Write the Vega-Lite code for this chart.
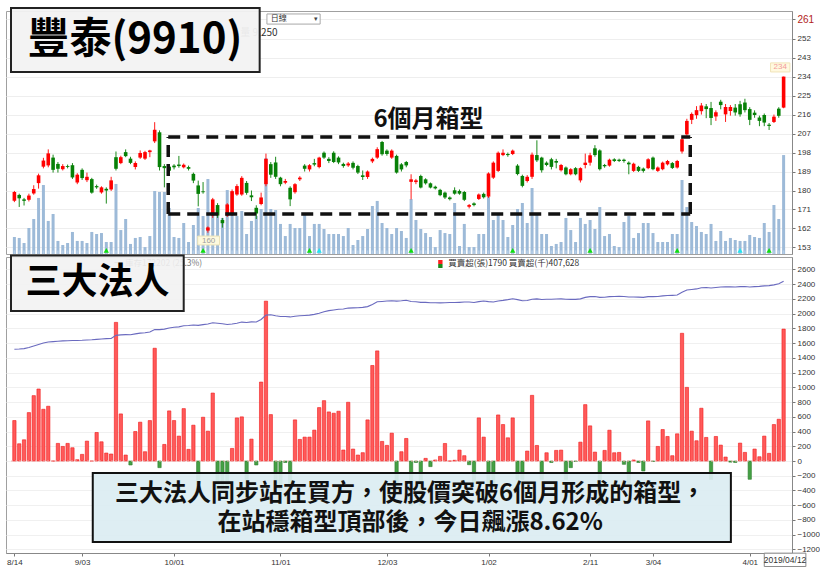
{
"$schema": "https://vega.github.io/schema/vega-lite/v6.json",
"background": "white",
"padding": {"left": 5, "top": 6, "right": 0, "bottom": 0},
"spacing": 3,
"bounds": "flush",
"config": {
  "view": {"stroke": "#a0a0a0"},
  "axis": {"labelFont": "Liberation Sans", "labelFontSize": 8, "labelColor": "#333333", "tickColor": "#777777", "domainColor": "#888888", "tickSize": 3, "labelPadding": 2, "gridColor": "#eeeeee", "labelOverlap": false}
},
"datasets": {
"days": [
{"i":0,"d":"2018-08-14","o":175.1,"h":179.8,"l":174.5,"c":179.3,"v":1590,"nb":549,"hold":1517},
{"i":1,"d":"2018-08-15","o":177.9,"h":178.5,"l":172.2,"c":176.3,"v":1500,"nb":234,"hold":1520},
{"i":2,"d":"2018-08-16","o":175.8,"h":176.5,"l":172.9,"c":175.1,"v":1030,"nb":288,"hold":1525},
{"i":3,"d":"2018-08-17","o":175.6,"h":178.5,"l":174.8,"c":177.6,"v":2430,"nb":657,"hold":1540},
{"i":4,"d":"2018-08-20","o":178.6,"h":182.5,"l":178.0,"c":180.7,"v":3270,"nb":887,"hold":1560},
{"i":5,"d":"2018-08-21","o":183.5,"h":188.0,"l":180.9,"c":187.2,"v":5240,"nb":977,"hold":1580},
{"i":6,"d":"2018-08-22","o":191.3,"h":195.5,"l":190.5,"c":194.2,"v":6450,"nb":702,"hold":1600},
{"i":7,"d":"2018-08-23","o":191.9,"h":199.5,"l":191.0,"c":197.6,"v":3090,"nb":743,"hold":1615},
{"i":8,"d":"2018-08-24","o":195.6,"h":197.0,"l":188.5,"c":189.8,"v":3740,"nb":0,"hold":1620},
{"i":9,"d":"2018-08-27","o":192.6,"h":193.5,"l":188.5,"c":190.3,"v":1220,"nb":239,"hold":1625},
{"i":10,"d":"2018-08-28","o":190.1,"h":192.5,"l":189.5,"c":191.6,"v":840,"nb":198,"hold":1630},
{"i":11,"d":"2018-08-29","o":191.6,"h":192.3,"l":190.5,"c":191.2,"v":1030,"nb":239,"hold":1632},
{"i":12,"d":"2018-08-30","o":192.0,"h":193.0,"l":185.5,"c":186.2,"v":2060,"nb":180,"hold":1635},
{"i":13,"d":"2018-08-31","o":183.8,"h":188.2,"l":183.0,"c":187.5,"v":1220,"nb":18,"hold":1636},
{"i":14,"d":"2018-09-03","o":189.8,"h":190.5,"l":185.0,"c":185.9,"v":1220,"nb":90,"hold":1638},
{"i":15,"d":"2018-09-04","o":184.9,"h":188.5,"l":184.0,"c":186.5,"v":1030,"nb":270,"hold":1642},
{"i":16,"d":"2018-09-05","o":185.4,"h":186.0,"l":178.5,"c":179.0,"v":2060,"nb":0,"hold":1645},
{"i":17,"d":"2018-09-06","o":182.1,"h":182.8,"l":180.8,"c":181.5,"v":1870,"nb":387,"hold":1650},
{"i":18,"d":"2018-09-07","o":179.1,"h":182.0,"l":178.5,"c":181.5,"v":1960,"nb":261,"hold":1655},
{"i":19,"d":"2018-09-10","o":180.8,"h":181.5,"l":173.8,"c":180.0,"v":1120,"nb":108,"hold":1660},
{"i":20,"d":"2018-09-11","o":180.5,"h":186.5,"l":179.8,"c":184.8,"v":1120,"nb":95,"hold":1662},
{"i":21,"d":"2018-09-12","o":195.8,"h":198.5,"l":189.5,"c":190.3,"v":6550,"nb":1881,"hold":1705},
{"i":22,"d":"2018-09-13","o":193.0,"h":196.5,"l":192.5,"c":195.8,"v":2240,"nb":639,"hold":1712},
{"i":23,"d":"2018-09-14","o":198.2,"h":199.5,"l":195.8,"c":196.3,"v":3270,"nb":81,"hold":1715},
{"i":24,"d":"2018-09-17","o":195.1,"h":196.0,"l":192.5,"c":193.1,"v":940,"nb":-54,"hold":1713},
{"i":25,"d":"2018-09-18","o":191.1,"h":193.8,"l":190.0,"c":193.1,"v":1500,"nb":400,"hold":1725},
{"i":26,"d":"2018-09-19","o":195.6,"h":199.0,"l":195.0,"c":197.8,"v":1590,"nb":527,"hold":1735},
{"i":27,"d":"2018-09-20","o":195.1,"h":198.8,"l":194.5,"c":198.2,"v":650,"nb":126,"hold":1740},
{"i":28,"d":"2018-09-21","o":198.2,"h":199.3,"l":195.8,"c":199.0,"v":1680,"nb":549,"hold":1750},
{"i":29,"d":"2018-09-25","o":203.3,"h":212.4,"l":202.5,"c":208.8,"v":5890,"nb":1530,"hold":1785},
{"i":30,"d":"2018-09-26","o":207.6,"h":208.5,"l":189.5,"c":191.1,"v":5800,"nb":-90,"hold":1783},
{"i":31,"d":"2018-09-27","o":191.6,"h":192.5,"l":181.5,"c":190.6,"v":5800,"nb":225,"hold":1790},
{"i":32,"d":"2018-09-28","o":191.3,"h":192.0,"l":188.0,"c":189.4,"v":4300,"nb":680,"hold":1805},
{"i":33,"d":"2018-10-01","o":191.8,"h":192.5,"l":190.0,"c":191.0,"v":1590,"nb":549,"hold":1815},
{"i":34,"d":"2018-10-02","o":192.3,"h":196.4,"l":190.8,"c":191.6,"v":1500,"nb":338,"hold":1820},
{"i":35,"d":"2018-10-03","o":191.0,"h":192.8,"l":190.5,"c":192.2,"v":2900,"nb":711,"hold":1835},
{"i":36,"d":"2018-10-04","o":191.1,"h":191.8,"l":189.5,"c":190.3,"v":1120,"nb":158,"hold":1838},
{"i":37,"d":"2018-10-05","o":187.9,"h":188.5,"l":183.5,"c":184.7,"v":2710,"nb":486,"hold":1845},
{"i":38,"d":"2018-10-08","o":182.4,"h":184.7,"l":172.5,"c":178.4,"v":4300,"nb":-320,"hold":1840},
{"i":39,"d":"2018-10-09","o":179.6,"h":184.0,"l":178.5,"c":179.2,"v":3550,"nb":594,"hold":1850},
{"i":40,"d":"2018-10-11","o":161.0,"h":163.0,"l":160.0,"c":162.5,"v":7010,"nb":405,"hold":1860},
{"i":41,"d":"2018-10-12","o":168.1,"h":176.5,"l":167.0,"c":175.8,"v":4210,"nb":922,"hold":1875},
{"i":42,"d":"2018-10-15","o":173.1,"h":174.0,"l":167.0,"c":168.1,"v":3550,"nb":-380,"hold":1870},
{"i":43,"d":"2018-10-16","o":166.0,"h":167.0,"l":162.4,"c":164.5,"v":3370,"nb":-350,"hold":1862},
{"i":44,"d":"2018-10-17","o":168.1,"h":174.0,"l":167.5,"c":173.4,"v":5980,"nb":-380,"hold":1852},
{"i":45,"d":"2018-10-18","o":168.9,"h":180.5,"l":168.0,"c":179.7,"v":5800,"nb":171,"hold":1858},
{"i":46,"d":"2018-10-19","o":178.1,"h":183.0,"l":177.5,"c":182.1,"v":3550,"nb":585,"hold":1870},
{"i":47,"d":"2018-10-22","o":178.1,"h":186.8,"l":177.5,"c":186.0,"v":4020,"nb":599,"hold":1885},
{"i":48,"d":"2018-10-23","o":183.6,"h":184.5,"l":178.0,"c":178.9,"v":1870,"nb":-250,"hold":1880},
{"i":49,"d":"2018-10-24","o":177.7,"h":180.0,"l":175.0,"c":176.8,"v":3090,"nb":297,"hold":1888},
{"i":50,"d":"2018-10-25","o":171.8,"h":173.0,"l":166.5,"c":169.1,"v":3550,"nb":-54,"hold":1886},
{"i":51,"d":"2018-10-26","o":173.6,"h":179.0,"l":173.0,"c":176.7,"v":4210,"nb":1071,"hold":1920},
{"i":52,"d":"2018-10-29","o":183.0,"h":197.5,"l":182.0,"c":195.0,"v":8980,"nb":2169,"hold":1980},
{"i":53,"d":"2018-10-30","o":192.5,"h":193.5,"l":186.0,"c":187.5,"v":4210,"nb":630,"hold":1985},
{"i":54,"d":"2018-10-31","o":193.3,"h":196.0,"l":185.5,"c":186.5,"v":4110,"nb":-380,"hold":1970},
{"i":55,"d":"2018-11-01","o":186.1,"h":186.5,"l":182.0,"c":183.0,"v":2810,"nb":-400,"hold":1960},
{"i":56,"d":"2018-11-02","o":183.7,"h":185.5,"l":183.0,"c":184.5,"v":1680,"nb":-20,"hold":1960},
{"i":57,"d":"2018-11-05","o":181.3,"h":182.0,"l":172.6,"c":175.8,"v":2810,"nb":-380,"hold":1955},
{"i":58,"d":"2018-11-06","o":179.2,"h":183.5,"l":178.5,"c":183.0,"v":2430,"nb":558,"hold":1965},
{"i":59,"d":"2018-11-07","o":185.3,"h":186.8,"l":184.5,"c":186.1,"v":2430,"nb":293,"hold":1970},
{"i":60,"d":"2018-11-08","o":191.8,"h":192.5,"l":189.0,"c":190.3,"v":3740,"nb":324,"hold":1975},
{"i":61,"d":"2018-11-09","o":190.0,"h":192.5,"l":189.0,"c":192.0,"v":1680,"nb":324,"hold":1980},
{"i":62,"d":"2018-11-12","o":193.0,"h":195.0,"l":191.5,"c":192.3,"v":2810,"nb":419,"hold":1990},
{"i":63,"d":"2018-11-13","o":191.1,"h":196.0,"l":190.5,"c":195.6,"v":2810,"nb":725,"hold":2005},
{"i":64,"d":"2018-11-14","o":197.9,"h":198.5,"l":195.0,"c":195.6,"v":2340,"nb":819,"hold":2025},
{"i":65,"d":"2018-11-15","o":195.0,"h":195.8,"l":193.0,"c":194.0,"v":1870,"nb":666,"hold":2040},
{"i":66,"d":"2018-11-16","o":197.9,"h":198.6,"l":193.0,"c":193.5,"v":1870,"nb":648,"hold":2050},
{"i":67,"d":"2018-11-19","o":195.6,"h":196.2,"l":192.5,"c":193.3,"v":1870,"nb":675,"hold":2060},
{"i":68,"d":"2018-11-20","o":192.6,"h":193.2,"l":190.8,"c":191.6,"v":1680,"nb":149,"hold":2062},
{"i":69,"d":"2018-11-21","o":191.9,"h":193.5,"l":191.2,"c":192.8,"v":2430,"nb":797,"hold":2075},
{"i":70,"d":"2018-11-22","o":193.1,"h":193.8,"l":190.0,"c":190.8,"v":840,"nb":162,"hold":2078},
{"i":71,"d":"2018-11-23","o":191.6,"h":192.2,"l":187.8,"c":188.5,"v":1310,"nb":81,"hold":2080},
{"i":72,"d":"2018-11-26","o":187.2,"h":189.5,"l":185.0,"c":186.4,"v":1680,"nb":113,"hold":2085},
{"i":73,"d":"2018-11-27","o":186.4,"h":189.5,"l":185.5,"c":189.0,"v":2340,"nb":558,"hold":2095},
{"i":74,"d":"2018-11-28","o":193.8,"h":195.6,"l":193.0,"c":195.0,"v":4490,"nb":1296,"hold":2125},
{"i":75,"d":"2018-11-29","o":195.6,"h":200.5,"l":195.0,"c":199.6,"v":4960,"nb":1494,"hold":2160},
{"i":76,"d":"2018-11-30","o":203.0,"h":203.5,"l":196.5,"c":197.2,"v":2900,"nb":266,"hold":2165},
{"i":77,"d":"2018-12-03","o":198.9,"h":199.5,"l":196.5,"c":197.3,"v":2430,"nb":212,"hold":2170},
{"i":78,"d":"2018-12-04","o":195.6,"h":199.5,"l":195.0,"c":198.9,"v":1870,"nb":378,"hold":2175},
{"i":79,"d":"2018-12-05","o":196.4,"h":197.0,"l":188.0,"c":188.5,"v":2430,"nb":-420,"hold":2170},
{"i":80,"d":"2018-12-06","o":192.4,"h":193.0,"l":189.0,"c":190.0,"v":2150,"nb":126,"hold":2175},
{"i":81,"d":"2018-12-07","o":193.5,"h":194.0,"l":191.0,"c":191.9,"v":1500,"nb":306,"hold":2182},
{"i":82,"d":"2018-12-10","o":184.1,"h":187.7,"l":175.8,"c":185.3,"v":5140,"nb":-600,"hold":2165},
{"i":83,"d":"2018-12-11","o":184.0,"h":185.5,"l":183.0,"c":184.8,"v":3180,"nb":-20,"hold":2160},
{"i":84,"d":"2018-12-12","o":186.9,"h":187.5,"l":181.0,"c":181.4,"v":2340,"nb":-600,"hold":2152},
{"i":85,"d":"2018-12-13","o":185.3,"h":185.8,"l":182.8,"c":183.4,"v":1960,"nb":36,"hold":2152},
{"i":86,"d":"2018-12-14","o":183.4,"h":183.8,"l":181.0,"c":181.4,"v":1590,"nb":-76,"hold":2148},
{"i":87,"d":"2018-12-17","o":181.8,"h":182.3,"l":180.5,"c":181.0,"v":650,"nb":14,"hold":2148},
{"i":88,"d":"2018-12-18","o":180.3,"h":180.8,"l":177.3,"c":177.8,"v":2240,"nb":63,"hold":2146},
{"i":89,"d":"2018-12-19","o":179.0,"h":179.5,"l":176.0,"c":176.7,"v":1960,"nb":238,"hold":2148},
{"i":90,"d":"2018-12-20","o":176.7,"h":177.2,"l":175.3,"c":175.9,"v":1870,"nb":0,"hold":2150},
{"i":91,"d":"2018-12-21","o":180.1,"h":181.5,"l":178.0,"c":178.5,"v":4770,"nb":10,"hold":2150},
{"i":92,"d":"2018-12-22","o":179.8,"h":180.5,"l":178.0,"c":178.5,"v":750,"nb":148,"hold":2153},
{"i":93,"d":"2018-12-24","o":179.3,"h":179.8,"l":175.0,"c":175.6,"v":2810,"nb":72,"hold":2157},
{"i":94,"d":"2018-12-25","o":172.3,"h":173.6,"l":171.5,"c":173.1,"v":650,"nb":-50,"hold":2157},
{"i":95,"d":"2018-12-26","o":173.9,"h":174.4,"l":172.5,"c":173.1,"v":650,"nb":-300,"hold":2150},
{"i":96,"d":"2018-12-27","o":176.0,"h":178.6,"l":175.5,"c":178.1,"v":1870,"nb":585,"hold":2162},
{"i":97,"d":"2018-12-28","o":178.4,"h":179.0,"l":176.2,"c":176.8,"v":1870,"nb":324,"hold":2170},
{"i":98,"d":"2019-01-02","o":177.1,"h":188.6,"l":176.5,"c":188.1,"v":5330,"nb":-350,"hold":2163},
{"i":99,"d":"2019-01-03","o":186.1,"h":193.8,"l":185.5,"c":193.2,"v":3180,"nb":-350,"hold":2158},
{"i":100,"d":"2019-01-04","o":189.3,"h":198.5,"l":188.8,"c":197.9,"v":3830,"nb":625,"hold":2172},
{"i":101,"d":"2019-01-07","o":196.8,"h":199.5,"l":196.3,"c":197.9,"v":3180,"nb":495,"hold":2180},
{"i":102,"d":"2019-01-08","o":197.3,"h":198.0,"l":196.0,"c":196.8,"v":1590,"nb":315,"hold":2190},
{"i":103,"d":"2019-01-09","o":197.3,"h":199.4,"l":196.8,"c":198.9,"v":2710,"nb":585,"hold":2202},
{"i":104,"d":"2019-01-10","o":191.8,"h":192.5,"l":187.2,"c":187.8,"v":4210,"nb":-250,"hold":2190},
{"i":105,"d":"2019-01-11","o":186.9,"h":187.5,"l":181.5,"c":182.2,"v":4770,"nb":-250,"hold":2175},
{"i":106,"d":"2019-01-14","o":184.5,"h":187.3,"l":183.8,"c":186.5,"v":2900,"nb":135,"hold":2178},
{"i":107,"d":"2019-01-15","o":186.5,"h":198.0,"l":185.5,"c":197.0,"v":6170,"nb":891,"hold":2195},
{"i":108,"d":"2019-01-16","o":196.8,"h":203.8,"l":193.5,"c":194.3,"v":3830,"nb":211,"hold":2200},
{"i":109,"d":"2019-01-17","o":195.6,"h":196.0,"l":188.5,"c":189.6,"v":1870,"nb":-250,"hold":2192},
{"i":110,"d":"2019-01-18","o":193.2,"h":193.8,"l":191.5,"c":192.1,"v":1870,"nb":112,"hold":2195},
{"i":111,"d":"2019-01-21","o":194.8,"h":195.5,"l":190.0,"c":191.2,"v":750,"nb":-20,"hold":2195},
{"i":112,"d":"2019-01-22","o":194.0,"h":195.0,"l":190.5,"c":193.2,"v":940,"nb":144,"hold":2198},
{"i":113,"d":"2019-01-23","o":189.6,"h":192.6,"l":189.0,"c":192.1,"v":1120,"nb":148,"hold":2200},
{"i":114,"d":"2019-01-24","o":190.9,"h":191.4,"l":187.2,"c":187.7,"v":3370,"nb":-250,"hold":2195},
{"i":115,"d":"2019-01-25","o":187.7,"h":190.6,"l":187.2,"c":190.1,"v":2240,"nb":-90,"hold":2193},
{"i":116,"d":"2019-01-28","o":190.6,"h":191.1,"l":187.2,"c":187.7,"v":1120,"nb":-5,"hold":2193},
{"i":117,"d":"2019-01-29","o":184.8,"h":191.0,"l":183.8,"c":190.6,"v":3370,"nb":256,"hold":2200},
{"i":118,"d":"2019-01-30","o":192.1,"h":197.5,"l":190.5,"c":193.2,"v":2810,"nb":765,"hold":2220},
{"i":119,"d":"2019-02-11","o":193.2,"h":197.9,"l":191.8,"c":196.7,"v":3180,"nb":477,"hold":2230},
{"i":120,"d":"2019-02-12","o":200.0,"h":201.5,"l":196.0,"c":196.8,"v":2340,"nb":121,"hold":2232},
{"i":121,"d":"2019-02-13","o":199.0,"h":199.5,"l":189.5,"c":190.1,"v":4390,"nb":-600,"hold":2220},
{"i":122,"d":"2019-02-14","o":192.1,"h":192.6,"l":190.8,"c":191.5,"v":1680,"nb":144,"hold":2222},
{"i":123,"d":"2019-02-15","o":191.8,"h":195.1,"l":191.3,"c":194.6,"v":1870,"nb":418,"hold":2230},
{"i":124,"d":"2019-02-18","o":194.8,"h":195.3,"l":193.5,"c":194.0,"v":750,"nb":112,"hold":2232},
{"i":125,"d":"2019-02-19","o":194.6,"h":195.1,"l":193.5,"c":194.0,"v":650,"nb":117,"hold":2234},
{"i":126,"d":"2019-02-20","o":194.6,"h":195.1,"l":193.2,"c":194.0,"v":2990,"nb":-45,"hold":2232},
{"i":127,"d":"2019-02-21","o":193.2,"h":193.8,"l":187.7,"c":192.4,"v":3550,"nb":-300,"hold":2225},
{"i":128,"d":"2019-02-22","o":189.3,"h":193.2,"l":188.8,"c":192.7,"v":1500,"nb":14,"hold":2225},
{"i":129,"d":"2019-02-25","o":191.2,"h":191.7,"l":188.8,"c":189.3,"v":1960,"nb":-20,"hold":2224},
{"i":130,"d":"2019-02-26","o":190.4,"h":190.9,"l":188.5,"c":189.3,"v":2900,"nb":-135,"hold":2220},
{"i":131,"d":"2019-02-27","o":190.6,"h":195.3,"l":190.1,"c":194.8,"v":2900,"nb":544,"hold":2230},
{"i":132,"d":"2019-03-04","o":195.6,"h":196.1,"l":189.6,"c":190.1,"v":1960,"nb":-5,"hold":2230},
{"i":133,"d":"2019-03-05","o":189.3,"h":191.4,"l":188.8,"c":190.9,"v":1120,"nb":198,"hold":2232},
{"i":134,"d":"2019-03-06","o":190.1,"h":193.7,"l":189.6,"c":193.2,"v":1120,"nb":427,"hold":2240},
{"i":135,"d":"2019-03-07","o":192.4,"h":194.5,"l":191.9,"c":194.0,"v":1120,"nb":333,"hold":2245},
{"i":136,"d":"2019-03-08","o":193.0,"h":193.5,"l":190.2,"c":190.7,"v":1870,"nb":72,"hold":2248},
{"i":137,"d":"2019-03-11","o":190.9,"h":194.5,"l":190.4,"c":194.0,"v":1870,"nb":369,"hold":2252},
{"i":138,"d":"2019-03-12","o":198.5,"h":205.0,"l":197.5,"c":204.3,"v":6920,"nb":1733,"hold":2290},
{"i":139,"d":"2019-03-13","o":206.6,"h":214.0,"l":206.0,"c":213.0,"v":4390,"nb":999,"hold":2320},
{"i":140,"d":"2019-03-14","o":213.5,"h":217.0,"l":211.5,"c":216.3,"v":2990,"nb":405,"hold":2328},
{"i":141,"d":"2019-03-15","o":215.7,"h":220.0,"l":214.0,"c":218.1,"v":2620,"nb":275,"hold":2335},
{"i":142,"d":"2019-03-18","o":217.6,"h":221.5,"l":216.0,"c":220.3,"v":2060,"nb":716,"hold":2350},
{"i":143,"d":"2019-03-19","o":219.9,"h":221.0,"l":214.3,"c":218.6,"v":1870,"nb":320,"hold":2355},
{"i":144,"d":"2019-03-20","o":219.1,"h":222.0,"l":211.0,"c":214.4,"v":2810,"nb":-250,"hold":2348},
{"i":145,"d":"2019-03-21","o":215.1,"h":218.0,"l":213.0,"c":217.1,"v":1220,"nb":333,"hold":2355},
{"i":146,"d":"2019-03-22","o":222.1,"h":223.0,"l":218.5,"c":220.5,"v":2150,"nb":216,"hold":2360},
{"i":147,"d":"2019-03-25","o":216.1,"h":221.0,"l":212.5,"c":219.6,"v":1220,"nb":54,"hold":2362},
{"i":148,"d":"2019-03-26","o":217.7,"h":220.5,"l":215.5,"c":219.6,"v":1500,"nb":-15,"hold":2362},
{"i":149,"d":"2019-03-27","o":219.3,"h":221.0,"l":215.5,"c":217.0,"v":1310,"nb":-20,"hold":2360},
{"i":150,"d":"2019-03-28","o":220.9,"h":222.5,"l":215.0,"c":216.1,"v":1220,"nb":243,"hold":2366},
{"i":151,"d":"2019-03-29","o":221.7,"h":223.5,"l":217.0,"c":218.1,"v":1220,"nb":117,"hold":2368},
{"i":152,"d":"2019-04-01","o":218.6,"h":219.5,"l":211.0,"c":213.5,"v":1780,"nb":-248,"hold":2362},
{"i":153,"d":"2019-04-02","o":216.9,"h":218.0,"l":214.5,"c":215.8,"v":1590,"nb":162,"hold":2366},
{"i":154,"d":"2019-04-03","o":214.6,"h":215.5,"l":210.5,"c":213.0,"v":1500,"nb":58,"hold":2370},
{"i":155,"d":"2019-04-08","o":215.8,"h":216.5,"l":210.5,"c":212.2,"v":2900,"nb":338,"hold":2376},
{"i":156,"d":"2019-04-09","o":211.2,"h":212.0,"l":208.7,"c":210.6,"v":2060,"nb":104,"hold":2380},
{"i":157,"d":"2019-04-10","o":212.5,"h":216.0,"l":212.0,"c":215.0,"v":4580,"nb":495,"hold":2390},
{"i":158,"d":"2019-04-11","o":218.8,"h":219.5,"l":214.5,"c":215.4,"v":3270,"nb":567,"hold":2405},
{"i":159,"d":"2019-04-12","o":219.3,"h":234.0,"l":219.0,"c":234.0,"v":9250,"nb":1790,"hold":2440}
],
"signals": [
{"i":19,"t":"g"},{"i":39,"t":"g"},{"i":61,"t":"g"},{"i":63,"t":"c"},{"i":82,"t":"g"},
{"i":103,"t":"g"},{"i":119,"t":"g"},{"i":137,"t":"g"},{"i":150,"t":"c"},{"i":156,"t":"g"}
]
},
"vconcat": [
{
  "width": 786,
  "height": 243,
  "resolve": {"scale": {"y": "independent"}},
  "layer": [
    {
      "data": {"name": "days"},
      "mark": {"type": "bar", "width": 3, "color": "#9dbad8"},
      "encoding": {
        "x": {"field": "i", "type": "quantitative", "scale": {"domain": [-0.7, 159.7], "nice": false, "zero": false}, "axis": null},
        "y": {"field": "v", "type": "quantitative", "scale": {"domain": [0, 22720], "nice": false}, "axis": null}
      }
    },
    {
      "layer": [
        {
          "data": {"name": "days"},
          "mark": {"type": "rule", "strokeWidth": 1},
          "encoding": {
            "x": {"field": "i", "type": "quantitative", "scale": {"domain": [-0.7, 159.7], "nice": false, "zero": false}, "axis": null},
            "y": {"field": "l", "type": "quantitative", "scale": {"domain": [149.9, 265.1], "nice": false, "zero": false},
                  "axis": {"orient": "right", "title": null, "grid": true, "labelOverlap": false, "format": "~f", "tickCount": 100,
                           "values": [153, 162, 171, 180, 189, 198, 207, 216, 225, 234, 243, 252, 261.1],
                           "labelColor": {"condition": {"test": "datum.value > 260", "value": "#b22222"}, "value": "#333333"},
                           "labelFontSize": {"condition": {"test": "datum.value > 260", "value": 10}, "value": 8}}},
            "y2": {"field": "h"},
            "color": {"condition": {"test": "datum.c >= datum.o", "value": "#ff1a1a"}, "value": "#1d8a1d"}
          }
        },
        {
          "data": {"name": "days"},
          "mark": {"type": "rule", "strokeWidth": 1.6, "color": "#b5cde6"},
          "encoding": {
            "x": {"field": "i", "type": "quantitative"},
            "y": {"datum": 149.9},
            "y2": {"datum": 151.6}
          }
        },
        {
          "data": {"name": "days"},
          "mark": {"type": "bar", "width": 3.6},
          "encoding": {
            "x": {"field": "i", "type": "quantitative"},
            "y": {"field": "o", "type": "quantitative"},
            "y2": {"field": "c"},
            "color": {"condition": {"test": "datum.c >= datum.o", "value": "#ff0000"}, "value": "#078007"}
          }
        },
        {
          "data": {"name": "signals"},
          "mark": {"type": "point", "shape": "triangle-up", "filled": true, "size": 28, "opacity": 1},
          "encoding": {
            "x": {"field": "i", "type": "quantitative"},
            "y": {"datum": 151.6},
            "color": {"condition": {"test": "datum.t == 'c'", "value": "#22e5f0"}, "value": "#11dd11"}
          }
        },
        {
          "data": {"values": [{}]},
          "mark": {"type": "rect", "fill": "#fdf9dd", "stroke": "#ece3b8", "strokeWidth": 1},
          "encoding": {"x": {"datum": 37.9}, "x2": {"datum": 42.4}, "y": {"datum": 158.4}, "y2": {"datum": 154.2}}
        },
        {
          "data": {"values": [{}]},
          "mark": {"type": "text", "font": "Liberation Sans", "fontSize": 8, "color": "#a0a0a0"},
          "encoding": {"x": {"datum": 40.15}, "y": {"datum": 156.3}, "text": {"value": "160"}}
        },
        {
          "data": {"values": [{}]},
          "mark": {"type": "rect", "fill": "#fff9df", "stroke": "#f1e4b8", "strokeWidth": 1},
          "encoding": {"x": {"datum": 156.3}, "x2": {"datum": 160.3}, "y": {"datum": 240.5}, "y2": {"datum": 236.2}}
        },
        {
          "data": {"values": [{}]},
          "mark": {"type": "text", "font": "Liberation Sans", "fontSize": 8, "color": "#f29a9a"},
          "encoding": {"x": {"datum": 158.3}, "y": {"datum": 238.4}, "text": {"value": "234"}}
        },
        {
          "data": {"values": [{}]},
          "mark": {"type": "rule", "strokeDash": [12, 7], "strokeWidth": 3.5, "color": "#111111"},
          "encoding": {"x": {"datum": 31.8}, "x2": {"datum": 139.7}, "y": {"datum": 205.4}}
        },
        {
          "data": {"values": [{}]},
          "mark": {"type": "rule", "strokeDash": [12, 7], "strokeWidth": 3.5, "color": "#111111"},
          "encoding": {"x": {"datum": 31.8}, "x2": {"datum": 139.7}, "y": {"datum": 168.9}}
        },
        {
          "data": {"values": [{}]},
          "mark": {"type": "rule", "strokeDash": [12, 7], "strokeWidth": 3.5, "color": "#111111"},
          "encoding": {"x": {"datum": 31.8}, "y": {"datum": 168.9}, "y2": {"datum": 205.4}}
        },
        {
          "data": {"values": [{}]},
          "mark": {"type": "rule", "strokeDash": [12, 7], "strokeWidth": 3.5, "color": "#111111"},
          "encoding": {"x": {"datum": 139.7}, "y": {"datum": 168.9}, "y2": {"datum": 205.4}}
        },
        {
          "data": {"values": [{}]},
          "mark": {"type": "text", "font": "Noto Sans CJK TC", "fontSize": 24, "fontWeight": "bold", "color": "#111111"},
          "encoding": {"x": {"datum": 85.6}, "y": {"datum": 213.4}, "text": {"value": "6個月箱型"}}
        },
        {
          "data": {"values": [{}]},
          "mark": {"type": "rect", "fill": "#ffffff", "stroke": "#a8a8a8", "strokeWidth": 1},
          "encoding": {"x": {"datum": 52.2}, "x2": {"datum": 63.2}, "y": {"datum": 263.7}, "y2": {"datum": 258.9}}
        },
        {
          "data": {"values": [{}]},
          "mark": {"type": "text", "font": "Noto Sans CJK TC", "fontSize": 8, "align": "left", "color": "#333333"},
          "encoding": {"x": {"datum": 53.0}, "y": {"datum": 261.3}, "text": {"value": "日線"}}
        },
        {
          "data": {"values": [{}]},
          "mark": {"type": "text", "font": "DejaVu Sans", "fontSize": 7, "color": "#444444"},
          "encoding": {"x": {"datum": 62.3}, "y": {"datum": 261.3}, "text": {"value": "▾"}}
        },
        {
          "data": {"values": [{}]},
          "mark": {"type": "text", "font": "Noto Sans CJK TC", "fontSize": 10, "align": "right", "color": "#333333"},
          "encoding": {"x": {"datum": 54.4}, "y": {"datum": 254.7}, "text": {"value": "量 9,250"}}
        },
        {
          "data": {"values": [{}]},
          "mark": {"type": "rect", "fill": "#f2f2f2", "fillOpacity": 0.95, "stroke": "#222222", "strokeWidth": 2},
          "encoding": {"x": {"datum": -0.7}, "x2": {"datum": 50.7}, "y": {"datum": 266.5}, "y2": {"datum": 236.2}}
        },
        {
          "data": {"values": [{}]},
          "mark": {"type": "text", "font": "Noto Sans CJK TC", "fontSize": 42, "fontWeight": "bold", "color": "#000000"},
          "encoding": {"x": {"datum": 24.9}, "y": {"datum": 251.3}, "text": {"value": "豐泰(9910)"}}
        }
      ]
    }
  ]
},
{
  "width": 786,
  "height": 296,
  "layer": [
    {
      "data": {"name": "days"},
      "mark": {"type": "bar", "width": 3.3, "strokeWidth": 0.6},
      "encoding": {
        "x": {"field": "i", "type": "quantitative", "scale": {"domain": [-0.7, 159.7], "nice": false, "zero": false},
              "axis": {"title": null, "grid": false, "values": [0, 14, 33, 55, 77, 98, 119, 132, 152], "tickCount": 100, "labelFontSize": 8, "labelOverlap": false,
                       "labelExpr": "datum.value==0?'8/14':datum.value==14?'9/03':datum.value==33?'10/01':datum.value==55?'11/01':datum.value==77?'12/03':datum.value==98?'1/02':datum.value==119?'2/11':datum.value==132?'3/04':datum.value==152?'4/01':''"}},
        "y": {"field": "nb", "type": "quantitative", "scale": {"domain": [-1248, 2768], "nice": false, "zero": false},
              "axis": {"orient": "right", "title": null, "grid": true, "gridColor": "#f0f0f0", "labelOverlap": false, "format": "d", "tickCount": 100,
                       "values": [-1200, -1000, -800, -600, -400, -200, 0, 200, 400, 600, 800, 1000, 1200, 1400, 1600, 1800, 2000, 2200, 2400, 2600]}},
        "fill": {"condition": {"test": "datum.nb >= 0", "value": "#ff5a5a"}, "value": "#45a045"},
        "stroke": {"condition": {"test": "datum.nb >= 0", "value": "#f01a1a"}, "value": "#2e7e2e"}
      }
    },
    {
      "data": {"values": [{}]},
      "mark": {"type": "rule", "strokeDash": [2, 2], "strokeWidth": 1, "color": "#f3b0b0"},
      "encoding": {"x": {"datum": -0.7}, "x2": {"datum": 159.7}, "y": {"datum": 0}}
    },
    {
      "data": {"name": "days"},
      "mark": {"type": "line", "color": "#6a6abf", "strokeWidth": 1.1},
      "encoding": {"x": {"field": "i", "type": "quantitative"}, "y": {"field": "hold", "type": "quantitative"}}
    },
    {
      "data": {"values": [{}]},
      "mark": {"type": "rect", "fill": "#ff2020"},
      "encoding": {"x": {"datum": 87.6}, "x2": {"datum": 88.5}, "y": {"datum": 2727}, "y2": {"datum": 2673}}
    },
    {
      "data": {"values": [{}]},
      "mark": {"type": "rect", "fill": "#1a8a1a"},
      "encoding": {"x": {"datum": 87.6}, "x2": {"datum": 88.5}, "y": {"datum": 2673}, "y2": {"datum": 2619}}
    },
    {
      "data": {"values": [{}]},
      "mark": {"type": "text", "font": "Noto Sans CJK TC", "fontSize": 8.5, "align": "left", "color": "#333333"},
      "encoding": {"x": {"datum": 89.7}, "y": {"datum": 2680}, "text": {"value": "買賣超(張)1790 買賣超(千)407,628"}}
    },
    {
      "data": {"values": [{}]},
      "mark": {"type": "text", "font": "Noto Sans CJK TC", "fontSize": 8.5, "align": "left", "color": "#777777"},
      "encoding": {"x": {"datum": 20.7}, "y": {"datum": 2680}, "text": {"value": "━ 庫存172202 (25.3%)"}}
    },
    {
      "data": {"values": [{}]},
      "mark": {"type": "rect", "fill": "#f2f2f2", "fillOpacity": 0.9, "stroke": "#222222", "strokeWidth": 2},
      "encoding": {"x": {"datum": -0.7}, "x2": {"datum": 35.0}, "y": {"datum": 2790}, "y2": {"datum": 2035}}
    },
    {
      "data": {"values": [{}]},
      "mark": {"type": "text", "font": "Noto Sans CJK TC", "fontSize": 36, "fontWeight": "bold", "color": "#000000"},
      "encoding": {"x": {"datum": 17.2}, "y": {"datum": 2410}, "text": {"value": "三大法人"}}
    },
    {
      "data": {"values": [{}]},
      "mark": {"type": "rect", "fill": "#dbedf2", "fillOpacity": 0.93, "stroke": "#111111", "strokeWidth": 2},
      "encoding": {"x": {"datum": 16.2}, "x2": {"datum": 148.1}, "y": {"datum": -162}, "y2": {"datum": -1098}}
    },
    {
      "data": {"values": [{}]},
      "mark": {"type": "text", "font": "Noto Sans CJK TC", "fontSize": 24, "fontWeight": "bold", "color": "#111111"},
      "encoding": {"x": {"datum": 81.8}, "y": {"datum": -448}, "text": {"value": "三大法人同步站在買方，使股價突破6個月形成的箱型，"}}
    },
    {
      "data": {"values": [{}]},
      "mark": {"type": "text", "font": "Noto Sans CJK TC", "fontSize": 24, "fontWeight": "bold", "color": "#111111"},
      "encoding": {"x": {"datum": 81.8}, "y": {"datum": -841}, "text": {"value": "在站穩箱型頂部後，今日飆漲8.62%"}}
    },
    {
      "data": {"values": [{}]},
      "mark": {"type": "rect", "fill": "#ffffff", "stroke": "#888888", "strokeWidth": 1},
      "encoding": {"x": {"datum": 155.0}, "x2": {"datum": 163.6}, "y": {"datum": -1250}, "y2": {"datum": -1432}}
    },
    {
      "data": {"values": [{}]},
      "mark": {"type": "text", "font": "Liberation Sans", "fontSize": 8.5, "color": "#333333"},
      "encoding": {"x": {"datum": 159.3}, "y": {"datum": -1341}, "text": {"value": "2019/04/12"}}
    }
  ]
}
]
}
